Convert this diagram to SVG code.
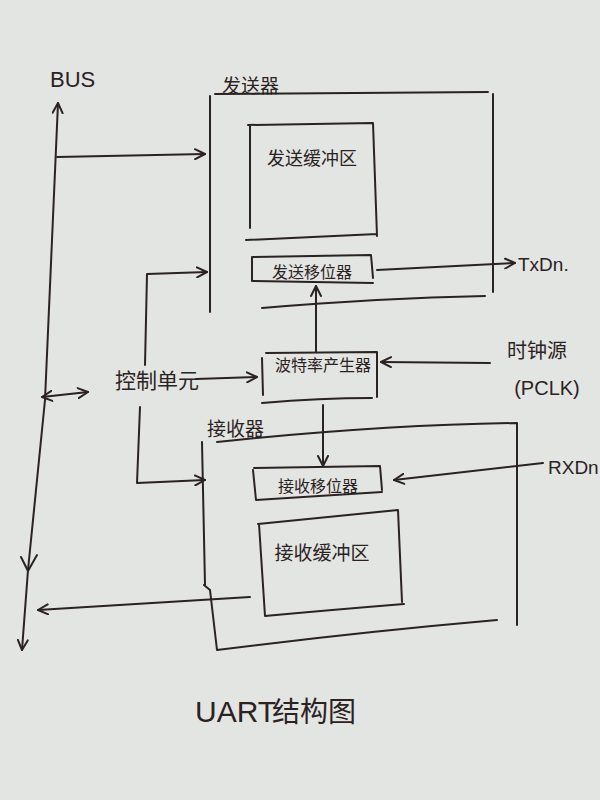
<svg xmlns="http://www.w3.org/2000/svg" width="600" height="800" viewBox="0 0 600 800">
<style>
.ln{fill:none;stroke:#2b2222;stroke-width:2;stroke-linecap:round;stroke-linejoin:round}
.t{font-family:"Noto Sans CJK SC","Noto Sans",sans-serif;fill:#2b2222}
.e{font-family:"Liberation Sans","DejaVu Sans",sans-serif;fill:#2b2222}
</style>
<defs>
<marker id="ah" viewBox="0 0 12 12" refX="11" refY="6" markerWidth="12" markerHeight="12" markerUnits="userSpaceOnUse" orient="auto-start-reverse">
<path d="M1,1 L11,6 L1,11" fill="none" stroke="#2b2222" stroke-width="2" stroke-linecap="round" stroke-linejoin="round"/>
</marker>
</defs>
<rect width="600" height="800" fill="#e3e5e2"/>

<g id="bus">
<text class="e" x="50" y="87" font-size="22">BUS</text>
</g>

<g id="transmitter">
<text class="t" x="222" y="93" font-size="19">发送器</text>
<path class="ln" d="M215,94 L488,92 M210,96 L210,312 M493,94 L493,292 M262,308 Q380,298 485,296"/>
</g>

<g id="tx-buffer">
<path class="ln" d="M248,125 L373,123 L377,236 M250,125 L250,228 M246,240 L377,234"/>
<text class="t" x="312" y="165" font-size="18" text-anchor="middle">发送缓冲区</text>
</g>

<g id="tx-shift">
<path class="ln" d="M253,257 L371,255 L373,278 M252,257 L252,281 L373,283"/>
<text class="t" x="312" y="278" font-size="16" text-anchor="middle">发送移位器</text>
</g>

<g id="txdn">
<text class="e" x="518" y="271" font-size="19">TxDn.</text>
</g>

<g id="control">
<text class="t" x="157" y="388" font-size="21" text-anchor="middle">控制单元</text>
</g>

<g id="baud">
<path class="ln" d="M266,353 L377,352 L377,397 M262,358 L263,395 M262,403 Q320,398 372,398"/>
<text class="t" x="323" y="371" font-size="16" text-anchor="middle">波特率产生器</text>
</g>

<g id="clock">
<text class="t" x="537" y="358" font-size="20" text-anchor="middle">时钟源</text>
<text class="e" x="547" y="395" font-size="20" text-anchor="middle">(PCLK)</text>
</g>

<g id="receiver">
<text class="t" x="207" y="436" font-size="19">接收器</text>
<path class="ln" d="M217,442 Q380,425 517,423 L517,625 M202,442 L205,585 M204,585 L210,590 L217,650 Q360,632 497,620"/>
</g>

<g id="rx-shift">
<path class="ln" d="M254,468 L380,466 L382,490 M253,470 L256,500 L382,492"/>
<text class="t" x="318" y="492" font-size="16" text-anchor="middle">接收移位器</text>
</g>

<g id="rxdn">
<text class="e" x="548" y="474" font-size="19">RXDn</text>
</g>

<g id="rx-buffer">
<path class="ln" d="M258,524 L398,510 L402,602 M259,524 L265,616 Q330,610 404,604"/>
<text class="t" x="322" y="560" font-size="19" text-anchor="middle">接收缓冲区</text>
</g>

<g id="title">
<text class="e" x="195" y="722" font-size="30">UART</text>
<text class="t" x="272" y="722" font-size="28">结构图</text>
</g>

<g id="connectors">
<path class="ln" d="M58,103 L45,400 L28,570 L22,650" marker-start="url(#ah)" marker-end="url(#ah)"/>
<path class="ln" d="M21,557 L28,571 L37,555"/>
<path class="ln" d="M57,157 L205,154" marker-end="url(#ah)"/>
<path class="ln" d="M145,365 L147,274 L207,272" marker-end="url(#ah)"/>
<path class="ln" d="M196,379 L257,377" marker-end="url(#ah)"/>
<path class="ln" d="M140,407 L137,483 L205,480" marker-end="url(#ah)"/>
<path class="ln" d="M42,397 L88,392" marker-start="url(#ah)" marker-end="url(#ah)"/>
<path class="ln" d="M377,270 L515,263" marker-end="url(#ah)"/>
<path class="ln" d="M316,352 L316,286" marker-end="url(#ah)"/>
<path class="ln" d="M490,363 L381,362" marker-end="url(#ah)"/>
<path class="ln" d="M323,405 L323,466" marker-end="url(#ah)"/>
<path class="ln" d="M543,463 L394,480" marker-end="url(#ah)"/>
<path class="ln" d="M250,597 L38,610" marker-end="url(#ah)"/>
</g>
</svg>
